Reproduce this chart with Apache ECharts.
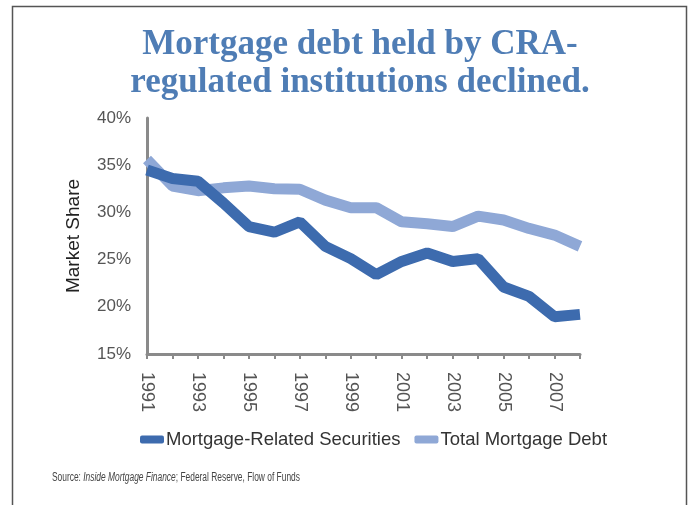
<!DOCTYPE html>
<html><head><meta charset="utf-8">
<script src="https://cdn.jsdelivr.net/npm/echarts@6/dist/echarts.min.js"></script>
<style>html,body{margin:0;padding:0;background:#fff}#c{width:688px;height:505px}</style>
</head><body><div id="c"></div>
<script>
const years = ['1991','1992','1993','1994','1995','1996','1997','1998','1999','2000','2001','2002','2003','2004','2005','2006','2007','2008'];
const mortgageRelatedSecurities = [34.5,33.6,33.3,31.0,28.5,27.9,29.0,26.4,25.1,23.4,24.8,25.7,24.8,25.1,22.1,21.1,18.95,19.2];
const totalMortgageDebt = [35.6,32.8,32.3,32.6,32.8,32.5,32.45,31.3,30.5,30.5,29.0,28.8,28.5,29.6,29.2,28.3,27.6,26.4];
const yTicks = [15,20,25,30,35,40];

const chart = echarts.init(document.getElementById('c'));
chart.setOption({
  animation:false,
  backgroundColor:'#fff',
  graphic:[
    {type:'polyline',shape:{points:[[12.5,505],[12.5,6.5],[686.5,6.5],[686.5,505]]},style:{stroke:'#555',lineWidth:1.5,fill:null}},
    {type:'text',x:360,y:26,style:{
      text:'Mortgage debt held by CRA-\nregulated institutions declined.',
      textAlign:'center',fontFamily:'Liberation Serif',fontWeight:'bold',fontSize:35,lineHeight:38,fill:'#4F7DB5'
    }},
    {type:'text',x:52,y:472,scaleX:0.7,style:{
      text:'{n|Source: }{i|Inside Mortgage Finance}{n|; Federal Reserve, Flow of Funds}',
      rich:{n:{fontFamily:'Liberation Sans',fontSize:12,fill:'#444'},
            i:{fontFamily:'Liberation Sans',fontSize:12,fontStyle:'italic',fill:'#444'}}
    }}
  ],
  legend:{
    top:430,left:140,padding:0,itemWidth:24,itemHeight:8,itemGap:14,
    icon:'roundRect',
    textStyle:{fontFamily:'Liberation Sans',fontSize:18.5,color:'#333',padding:[0,0,0,-3]},
    data:['Mortgage-Related Securities','Total Mortgage Debt']
  },
  grid:{left:147,top:118,width:433,height:236},
  xAxis:{
    type:'category',boundaryGap:false,data:years,
    axisLine:{lineStyle:{color:'#8a8a8a',width:3}},
    axisTick:{show:true,interval:0,length:5,lineStyle:{color:'#8a8a8a',width:2}},
    axisLabel:{rotate:-90,interval:1,margin:18,fontFamily:'Liberation Sans',fontSize:18,color:'#555'}
  },
  yAxis:{
    type:'value',min:15,max:40,interval:5,
    name:'Market Share',nameLocation:'middle',nameGap:64,nameRotate:90,
    nameTextStyle:{fontFamily:'Liberation Sans',fontSize:19,color:'#222'},
    axisLine:{show:true,lineStyle:{color:'#8a8a8a',width:3}},
    axisTick:{show:false},
    splitLine:{show:false},
    axisLabel:{margin:16,fontFamily:'Liberation Sans',fontSize:17,color:'#555',formatter:v=>yTicks.includes(v)?v+'%':''}
  },
  series:[
    {name:'Total Mortgage Debt',type:'line',data:totalMortgageDebt,symbol:'none',z:2,
     lineStyle:{width:11,color:'#8FA8D6'},itemStyle:{color:'#8FA8D6'}},
    {name:'Mortgage-Related Securities',type:'line',data:mortgageRelatedSecurities,symbol:'none',z:3,
     lineStyle:{width:11,color:'#3D6BAE'},itemStyle:{color:'#3D6BAE'}}
  ]
});
</script></body></html>
